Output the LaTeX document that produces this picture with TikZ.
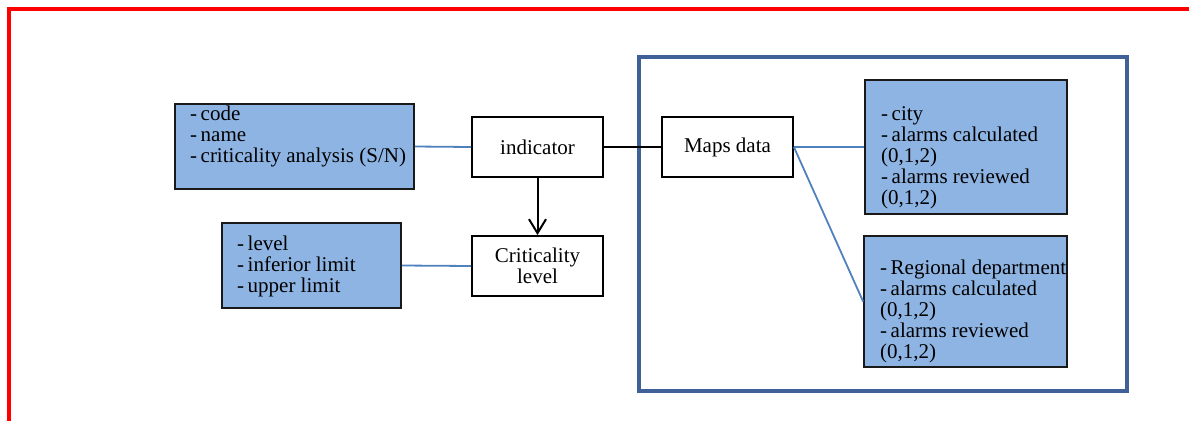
\documentclass[tikz,border=0pt]{standalone}
\usepackage{fontspec}
\setmainfont{Liberation Serif}
\usetikzlibrary{arrows.meta}
\definecolor{boxfill}{HTML}{8EB4E3}
\definecolor{linkblue}{HTML}{4F81BD}
\definecolor{framecol}{HTML}{3F6198}
\begin{document}
\begin{tikzpicture}[x=1pt,y=-1pt,
  every node/.style={font=\fontsize{21}{21}\selectfont},
  bluebox/.style={draw=black!90, line width=1.8pt, fill=boxfill, inner sep=0pt},
  whitebox/.style={draw=black, line width=1.8pt, fill=white, inner sep=0pt, align=center},
  txt/.style={inner sep=0pt, anchor=west, align=left},
  bluelink/.style={draw=linkblue, line width=1.8pt},
  blacklink/.style={draw=black, line width=2pt}]
\useasboundingbox (0,0) rectangle (1189,421);
% red page border
\draw[red, line width=3.2pt] (9,421) -- (9,9) -- (1189,9);
% big frame
\node[draw=framecol, line width=4pt, minimum width=488pt, minimum height=334pt, inner sep=0pt] (frame) at (883,223.5) {};
% boxes
\node[bluebox, minimum width=239pt, minimum height=85pt] (attr1) at (294.5,146.5) {};
\node[txt] (attr1t) at (190,136) {-\,code\\-\,name\\-\,criticality analysis (S/N)};
\node[bluebox, minimum width=179pt, minimum height=85pt] (attr2) at (311.5,265.5) {};
\node[txt] (attr2t) at (237,266) {-\,level\\-\,inferior limit\\-\,upper limit};
\node[whitebox, minimum width=131pt, minimum height=60pt] (ind) at (537.5,147) {indicator};
\node[whitebox, minimum width=131pt, minimum height=60pt] (crit) at (537.5,266) {Criticality\\level};
\node[whitebox, minimum width=131pt, minimum height=60pt] (maps) at (727.5,147) {Maps data};
\node[bluebox, minimum width=202pt, minimum height=134pt] (city) at (966,147) {};
\node[txt] (cityt) at (881,158) {-\,city\\-\,alarms calculated\\(0,1,2)\\-\,alarms reviewed\\(0,1,2)};
\node[bluebox, minimum width=203pt, minimum height=131pt] (reg) at (965.5,301.5) {};
\node[txt] (regt) at (880,311.6) {-\,Regional department\\-\,alarms calculated\\(0,1,2)\\-\,alarms reviewed\\(0,1,2)};
% connectors
\draw[bluelink] (attr1.east) -- (ind.west);
\draw[bluelink] (attr2.east) -- (crit.west);
\draw[blacklink] (ind.east) -- (maps.west);
\draw[blacklink, -{Straight Barb[length=14pt,width=17pt,line width=2pt]}] (ind.south) -- (crit.north);
\draw[bluelink] (maps.east) -- (city.west);
\draw[bluelink] (maps.east) -- (reg.west);
\end{tikzpicture}
\end{document}
